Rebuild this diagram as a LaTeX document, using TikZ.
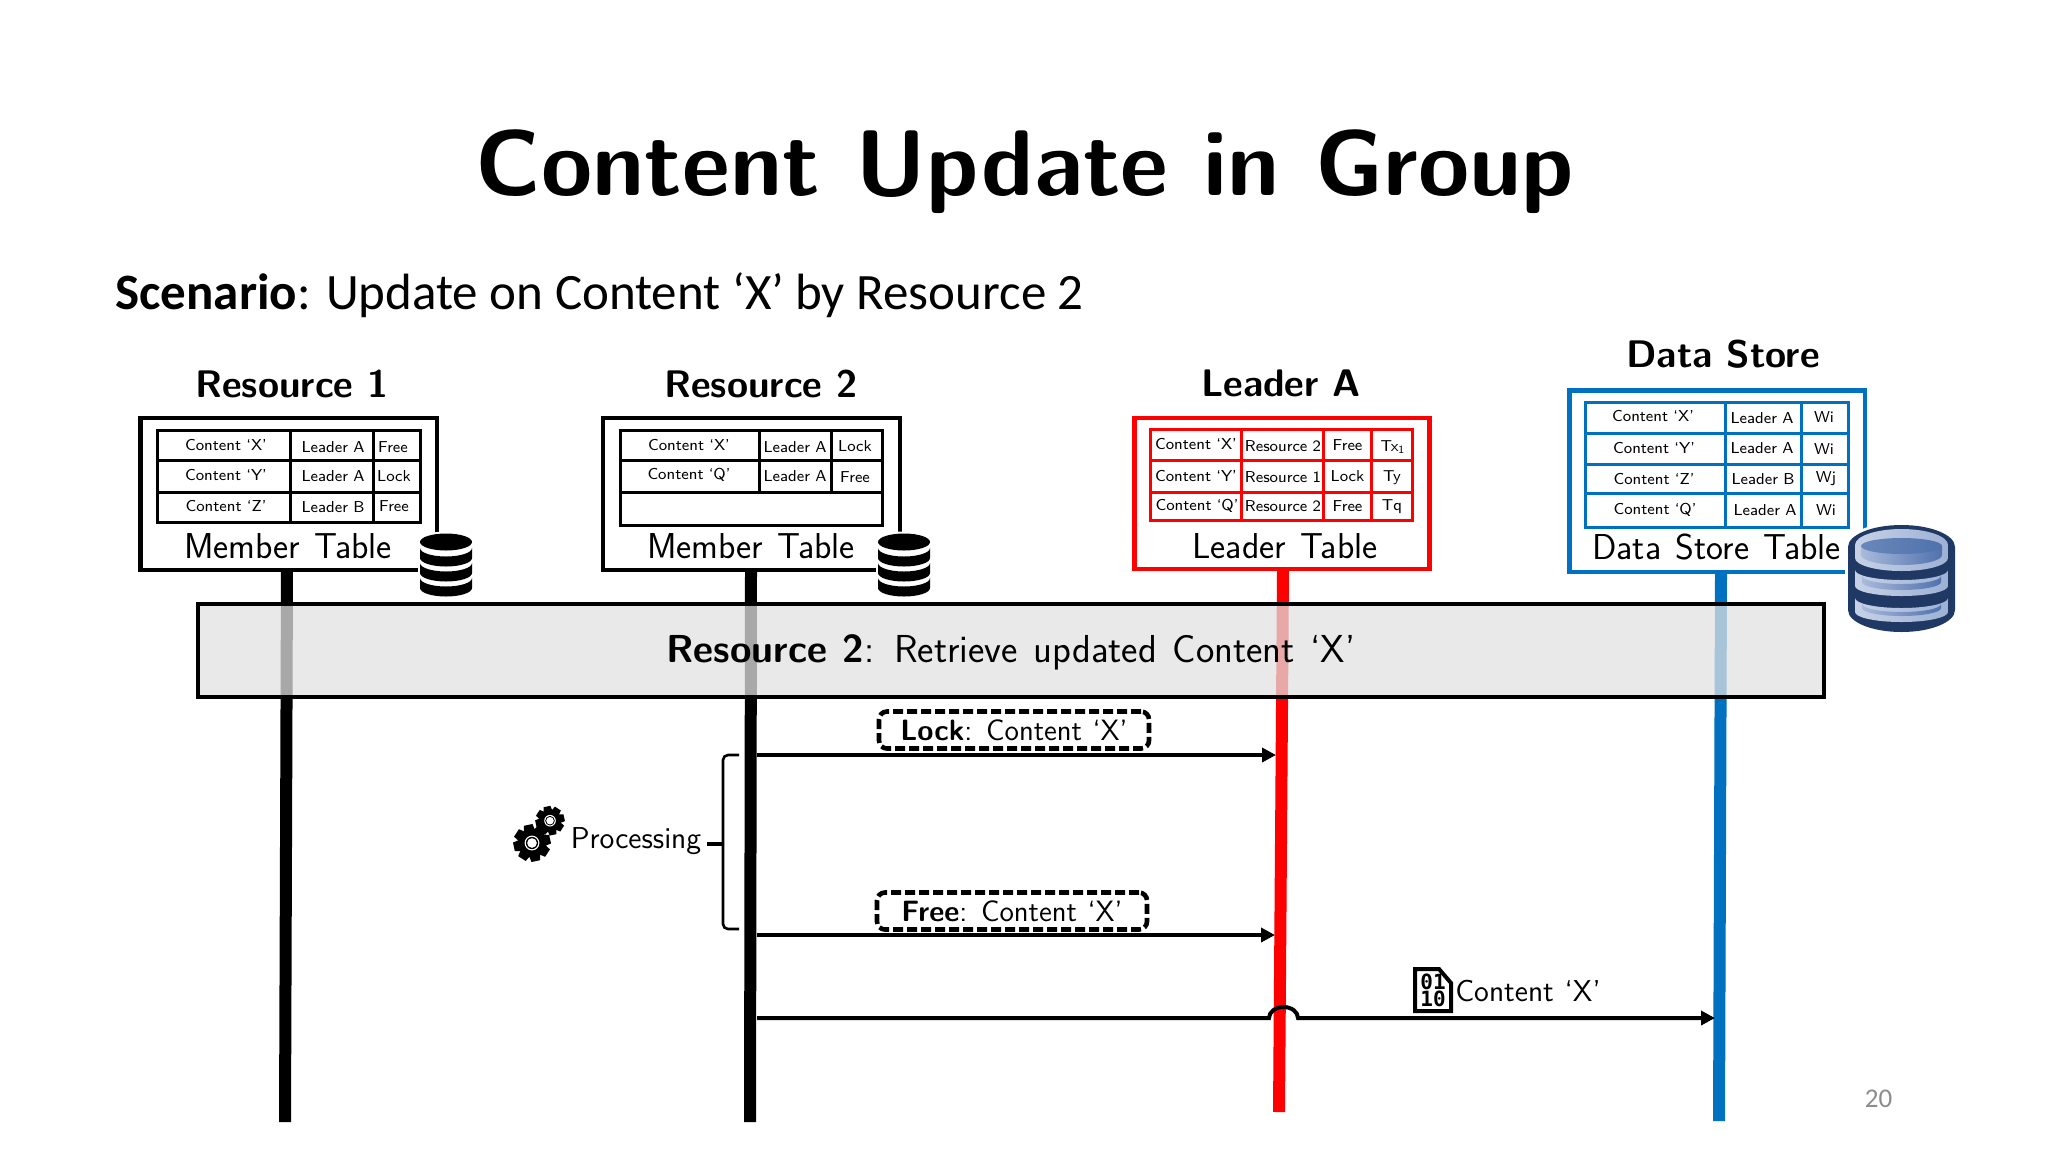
\documentclass[tikz,border=0pt]{standalone}
\usepackage{fontspec}
\usetikzlibrary{arrows.meta,calc}
\newfontfamily\calib{Carlito}
\newfontfamily\binfont{DejaVu Sans Mono}
\definecolor{lred}{HTML}{FF0000}
\definecolor{lblue}{HTML}{0070C0}
\definecolor{navy}{HTML}{1F3864}
\definecolor{bandgrey}{RGB}{225,225,225}
\definecolor{dbrim}{HTML}{C6D1E6}
\definecolor{dbrimd}{HTML}{9DB1D4}
\definecolor{dbin}{HTML}{A9BADB}
\definecolor{dbind}{HTML}{4F72AD}
\newcommand{\fsw}[2]{\fontsize{#1}{#1}\selectfont\spaceskip=#2em\relax}
\tikzset{
  x=0.5pt,y=-0.5pt,
  txt/.style={inner sep=0pt,font=\sffamily},
  titletxt/.style={txt,font=\sffamily\bfseries\fsw{46.6}{.38}},
  headtxt/.style={txt,font=\sffamily\bfseries\fsw{19.2}{.37}},
  celltxt/.style={txt,font=\sffamily\fsw{7.9}{.33}},
  captxt/.style={txt,font=\sffamily\fsw{18}{.4}},
  labtxt/.style={txt,font=\sffamily\fsw{14.7}{.36}},
  sidetxt/.style={txt,font=\sffamily\fsw{15.1}{.36}},
  bigbox/.style={draw=#1,line width=2.3pt,fill=white},
  gridt/.style={draw=#1,line width=1.5pt},
  life/.style={draw=#1,line width=6pt},
  msg/.style={draw=black,line width=2pt,-{Triangle[length=7pt,width=7pt]}},
  dashbox/.style={draw=black,line width=2.3pt,dash pattern=on 5pt off 2pt,rounded corners=4pt},
  dbsil/.pic={
    \fill[white,draw=white,line width=2pt] (-26,0) arc (180:360:26 and 8.5) -- (26,46) arc (0:180:26 and 8.5) -- cycle;
    \fill[black] (0,0) ellipse (26 and 8.5);
    \foreach \a in {6,21,36}{
      \fill[black] (-26,\a) -- (-26,\a+10) arc (180:0:26 and 8.5) -- (26,\a) arc (0:180:26 and 8.5) -- cycle;
    }
  }
}
\newcommand{\gear}[4]{% x y r name
  \begin{scope}[shift={(#1,#2)}]
    \foreach \t in {0,45,...,315}{
      \fill[black,rotate=\t+12] (-.24*#3,#3) -- (.24*#3,#3) -- (.32*#3,.55*#3) -- (-.32*#3,.55*#3) -- cycle;
    }
    \fill[black] (0,0) circle[radius=.74*#3];
    \fill[white] (0,0) circle[radius=.40*#3];
    \fill[black] (0,0) circle[radius=.33*#3];
    \fill[white] (0,0) circle[radius=.26*#3];
    \coordinate (#4) at (0,0);
  \end{scope}
}
% one drum of the large database icon: rim top y, rim bottom y, inner top y, inner bottom y
\newcommand{\drum}[4]{%
  \shade[left color=dbrim,right color=dbrimd] (1855,#1) arc (180:0:46.5 and 10) -- (1948,#2) arc (0:180:46.5 and 10) -- cycle;
  \shade[left color=dbin,right color=dbind] (1862,#3) arc (180:0:39.5 and 8) -- (1941,#4) arc (0:180:39.5 and 8) -- cycle;
}
\begin{document}
\begin{tikzpicture}
\useasboundingbox (0,0) rectangle (2048,1152);
% lifeline anchors
\coordinate (r1top) at (287,570); \coordinate (r1bot) at (285,1122);
\coordinate (r2top) at (751,570); \coordinate (r2bot) at (750,1122);
\coordinate (latop) at (1283,570); \coordinate (labot) at (1279,1112);
\coordinate (dstop) at (1721,572); \coordinate (dsbot) at (1719,1121);
\draw[life=black] (r1top) -- (r1bot);
\draw[life=black] (r2top) -- (r2bot);
\draw[life=lred] (latop) -- (labot);
\draw[life=lblue] (dstop) -- (dsbot);
% title
\node[titletxt] (title) at (1025,172) {Content Update in Group};
\node[txt,font=\calib\fontsize{25.5}{25.5}\selectfont,anchor=west] (scen) at (115,295) {\textbf{Scenario}: Update on Content ‘X’ by Resource 2};
% headings
\node[headtxt] (h1) at (292,384) {Resource 1};
\node[headtxt] (h2) at (761,384) {Resource 2};
\node[headtxt] (h3) at (1281,383) {Leader A};
\node[headtxt] (h4) at (1723,354) {Data Store};
% resource 1
\draw[bigbox=black] (140.5,418) rectangle (437,570);
\draw[gridt=black] (157,430) rectangle (420,522) (157,460)--(420,460) (157,492)--(420,492) (290.6,430)--(290.6,522) (373.4,430)--(373.4,522);
\foreach \n/\x/\y/\t in {a/226/445/Content ‘X’,b/226/475/Content ‘Y’,c/226/506/Content ‘Z’,d/333/447/Leader A,e/333/476/Leader A,f/333/507/Leader B,g/393/447/Free,h/394/476/Lock,i/394/506/Free}
  \node[celltxt] (ra\n) at (\x,\y) {\t};
\node[captxt] (rcap1) at (288,546) {Member Table};
% resource 2
\draw[bigbox=black] (603,418) rectangle (900,570);
\draw[gridt=black] (620,430) rectangle (882,525) (620,460)--(882,460) (620,492)--(882,492) (759,430)--(759,492) (831.5,430)--(831.5,492);
\foreach \n/\x/\y/\t in {a/689/445/Content ‘X’,b/689/475/Content ‘Q’,d/795/447/Leader A,e/795/476/Leader A,g/855/446/Lock,h/855/477/Free}
  \node[celltxt] (rb\n) at (\x,\y) {\t};
\node[captxt] (rcap2) at (751,546) {Member Table};
% leader
\draw[bigbox=lred] (1134.5,418) rectangle (1429.5,569);
\draw[gridt=lred] (1150,429) rectangle (1412,520) (1150,460.7)--(1412,460.7) (1150,492)--(1412,492) (1241.5,429)--(1241.5,520) (1323.7,429)--(1323.7,520) (1371.4,429)--(1371.4,520);
\foreach \n/\x/\y/\t in {a/1196/444/Content ‘X’,b/1196/476/Content ‘Y’,c/1197/506/Content ‘Q’,d/1283/446/Resource 2,e/1283/477/Resource 1,f/1283/506/Resource 2,g/1347.5/445/Free,h/1347.5/476/Lock,i/1347.5/506/Free,j/1393/447/Tx\textsubscript{1},k/1392/478/Ty,l/1392/507/Tq}
  \node[celltxt] (la\n) at (\x,\y) {\t};
\node[captxt] (lcap) at (1285,546) {Leader Table};
% data store
\draw[bigbox=lblue] (1569.5,390.5) rectangle (1865,572);
\draw[gridt=lblue] (1585,402) rectangle (1848,527) (1585,433)--(1848,433) (1585,464)--(1848,464) (1585,493)--(1848,493) (1725.4,402)--(1725.4,527) (1801.5,402)--(1801.5,527);
\foreach \n/\x/\y/\t in {a/1653/416/Content ‘X’,b/1654/448/Content ‘Y’,c/1654/479/Content ‘Z’,d/1655/510/Content ‘Q’,e/1762/418/Leader A,f/1762/448/Leader A,g/1763/479/Leader B,h/1765/510/Leader A,i/1824/417/Wi,j/1824/449/Wi,k/1826/479/Wj,l/1826/510/Wi}
  \node[celltxt] (ds\n) at (\x,\y) {\t};
\node[captxt] (dcap) at (1716.5,547) {Data Store Table};
% db icons
\pic (db1) at (446,542) {dbsil};
\pic (db2) at (904,542) {dbsil};
% band
\fill[bandgrey,fill opacity=.75] (198,604) rectangle (1824,697);
\draw[black,line width=2.2pt] (198,604) rectangle (1824,697);
\node[txt,font=\sffamily\fsw{19.5}{.4}] (bandtxt) at (1011,652) {\textbf{Resource 2}: Retrieve updated Content ‘X’};
% large database icon
\fill[white] (1845,547) arc (180:360:56.5 and 25) -- (1958,610) arc (0:180:56.5 and 25) -- cycle;
\fill[navy] (1848,547) arc (180:360:53.5 and 22) -- (1955,610) arc (0:180:53.5 and 22) -- cycle;
\drum{598}{612}{604}{608}
\drum{570}{586}{576}{582}
\shade[left color=dbrim,right color=dbrimd] (1855,545) arc (180:360:46.5 and 16) -- (1948,558) arc (0:180:46.5 and 13) -- cycle;
\shade[left color=dbin,right color=dbind] (1861,546) -- (1942,546) -- (1942,555) arc (0:180:40.5 and 10) -- cycle;
\shade[left color=dbind!85!white,right color=dbind] (1901.5,546) ellipse (40.5 and 8);
% arrows
\coordinate (m1a) at (757,755); \coordinate (m1b) at (1276,755);
\coordinate (m2a) at (757,935); \coordinate (m2b) at (1275,935);
\coordinate (m3a) at (757,1018); \coordinate (m3j) at (1269,1018); \coordinate (m3b) at (1715,1018);
\draw[msg] (m1a) -- (m1b);
\draw[msg] (m2a) -- (m2b);
\draw[msg] (m3a) -- (m3j) arc (180:360:14.5 and 11) -- (m3b);
\node[dashbox,minimum width=135pt,minimum height=18.5pt,labtxt] (lockbox) at (1014,730) {\textbf{Lock}: Content ‘X’};
\node[dashbox,minimum width=135pt,minimum height=18.5pt,labtxt] (freebox) at (1012,911) {\textbf{Free}: Content ‘X’};
% brace
\draw[line width=1.3pt,rounded corners=2.5pt] (739,755) -- (723,755) -- (723,929) -- (739,929);
\draw[line width=2pt] (707,844) -- (723,844);
% processing
\gear{532}{843}{18.5}{g1}
\gear{550}{820.7}{14.5}{g2}
\node[sidetxt] (proc) at (636,841) {Processing};
% file icon
\draw[black,line width=2pt,fill=white] (1415,969) -- (1439,969) -- (1451,983) -- (1451,1011) -- (1415,1011) -- cycle;
\node[txt,font=\binfont\bfseries\fontsize{10.5}{10.5}\selectfont] (bin1) at (1433,982) {01};
\node[txt,font=\binfont\bfseries\fontsize{10.5}{10.5}\selectfont] (bin2) at (1433,999) {10};
\node[sidetxt] (c3) at (1528,991) {Content ‘X’};
% page number
\node[txt,font=\calib\fontsize{13.5}{13.5}\selectfont,text=black!45] (pg) at (1878.6,1099) {20};
\end{tikzpicture}
\end{document}
